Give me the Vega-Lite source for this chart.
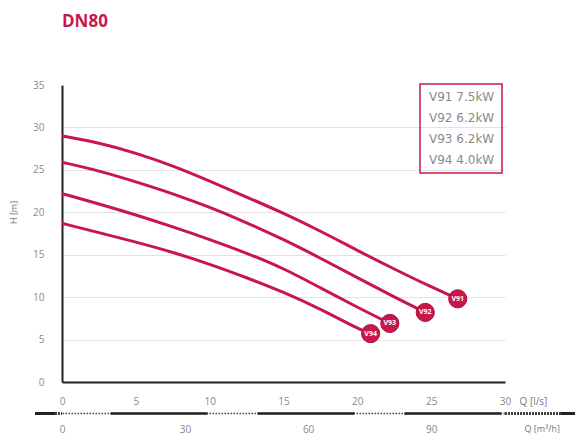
{
  "$schema": "https://vega.github.io/schema/vega-lite/v6.json",
  "width": 443,
  "height": 297,
  "autosize": {"type": "none"},
  "padding": {"left": 62, "top": 85, "right": 70, "bottom": 53},
  "background": "white",
  "title": {"text": "DN80", "anchor": "start", "frame": "group", "color": "#c8174b", "fontSize": 17, "fontWeight": "bold", "font": "Open Sans", "offset": 49},
  "config": {
    "view": {"stroke": null},
    "font": "Open Sans",
    "axis": {"labelColor": "#8a8a8a", "labelFontSize": 10, "labelFont": "Open Sans", "ticks": false, "tickSize": 0, "domainColor": "#222222", "domainWidth": 2, "titleColor": "#777777", "titleFontSize": 9, "titleFontWeight": "normal", "titleFont": "Open Sans", "grid": false},
    "legend": {"strokeWidth": 1.5}
  },
  "datasets": {
    "curves": [
      {"code": "V91", "pump": "V91 7.5kW", "Q": 0, "H": 29.0},
      {"code": "V91", "pump": "V91 7.5kW", "Q": 2.5, "H": 28.2},
      {"code": "V91", "pump": "V91 7.5kW", "Q": 5, "H": 27.0},
      {"code": "V91", "pump": "V91 7.5kW", "Q": 7.5, "H": 25.5},
      {"code": "V91", "pump": "V91 7.5kW", "Q": 10, "H": 23.7},
      {"code": "V91", "pump": "V91 7.5kW", "Q": 12.5, "H": 21.8},
      {"code": "V91", "pump": "V91 7.5kW", "Q": 15, "H": 19.9},
      {"code": "V91", "pump": "V91 7.5kW", "Q": 17.5, "H": 17.8},
      {"code": "V91", "pump": "V91 7.5kW", "Q": 20, "H": 15.5},
      {"code": "V91", "pump": "V91 7.5kW", "Q": 22.5, "H": 13.3},
      {"code": "V91", "pump": "V91 7.5kW", "Q": 25, "H": 11.2},
      {"code": "V91", "pump": "V91 7.5kW", "Q": 26.8, "H": 9.8},
      {"code": "V92", "pump": "V92 6.2kW", "Q": 0, "H": 25.9},
      {"code": "V92", "pump": "V92 6.2kW", "Q": 2.5, "H": 24.9},
      {"code": "V92", "pump": "V92 6.2kW", "Q": 5, "H": 23.6},
      {"code": "V92", "pump": "V92 6.2kW", "Q": 7.5, "H": 22.2},
      {"code": "V92", "pump": "V92 6.2kW", "Q": 10, "H": 20.6},
      {"code": "V92", "pump": "V92 6.2kW", "Q": 12.5, "H": 18.8},
      {"code": "V92", "pump": "V92 6.2kW", "Q": 15, "H": 16.8},
      {"code": "V92", "pump": "V92 6.2kW", "Q": 17.5, "H": 14.6},
      {"code": "V92", "pump": "V92 6.2kW", "Q": 20, "H": 12.3},
      {"code": "V92", "pump": "V92 6.2kW", "Q": 22.5, "H": 10.0},
      {"code": "V92", "pump": "V92 6.2kW", "Q": 24.6, "H": 8.2},
      {"code": "V93", "pump": "V93 6.2kW", "Q": 0, "H": 22.2},
      {"code": "V93", "pump": "V93 6.2kW", "Q": 2.5, "H": 21.0},
      {"code": "V93", "pump": "V93 6.2kW", "Q": 5, "H": 19.7},
      {"code": "V93", "pump": "V93 6.2kW", "Q": 7.5, "H": 18.3},
      {"code": "V93", "pump": "V93 6.2kW", "Q": 10, "H": 16.8},
      {"code": "V93", "pump": "V93 6.2kW", "Q": 12.5, "H": 15.2},
      {"code": "V93", "pump": "V93 6.2kW", "Q": 15, "H": 13.4},
      {"code": "V93", "pump": "V93 6.2kW", "Q": 17.5, "H": 11.1},
      {"code": "V93", "pump": "V93 6.2kW", "Q": 20, "H": 8.8},
      {"code": "V93", "pump": "V93 6.2kW", "Q": 22.2, "H": 6.9},
      {"code": "V94", "pump": "V94 4.0kW", "Q": 0, "H": 18.7},
      {"code": "V94", "pump": "V94 4.0kW", "Q": 2.5, "H": 17.6},
      {"code": "V94", "pump": "V94 4.0kW", "Q": 5, "H": 16.5},
      {"code": "V94", "pump": "V94 4.0kW", "Q": 7.5, "H": 15.3},
      {"code": "V94", "pump": "V94 4.0kW", "Q": 10, "H": 13.9},
      {"code": "V94", "pump": "V94 4.0kW", "Q": 12.5, "H": 12.3},
      {"code": "V94", "pump": "V94 4.0kW", "Q": 15, "H": 10.6},
      {"code": "V94", "pump": "V94 4.0kW", "Q": 17.5, "H": 8.6},
      {"code": "V94", "pump": "V94 4.0kW", "Q": 20, "H": 6.3},
      {"code": "V94", "pump": "V94 4.0kW", "Q": 20.9, "H": 5.7}
    ],
    "flow": [{"m3h": 0}, {"m3h": 30}, {"m3h": 60}, {"m3h": 90}]
  },
  "layer": [
    {
      "data": {"name": "curves"},
      "encoding": {
        "x": {"field": "Q", "type": "quantitative", "scale": {"domain": [0, 30], "nice": false},
          "axis": {"values": [0, 5, 10, 15, 20, 25, 30], "title": "Q [l/s]", "labelPadding": 14, "labelFlush": false, "titleX": 457, "titleY": 19, "titleAlign": "left", "titleBaseline": "middle", "titleAngle": 0, "titleFontSize": 10}},
        "y": {"field": "H", "type": "quantitative", "scale": {"domain": [0, 35], "nice": false},
          "axis": {"values": [0, 5, 10, 15, 20, 25, 30, 35], "title": "H [m]", "grid": true, "gridColor": "#e3e3e3", "gridWidth": 1,
            "gridOpacity": {"condition": {"test": "datum.value == 35", "value": 0}, "value": 1},
            "labelPadding": 18, "titleX": -49, "titleY": 127, "titleAlign": "center", "titleBaseline": "middle", "titleFontSize": 9}}
      },
      "layer": [
        {
          "mark": {"type": "line", "interpolate": "basis", "strokeWidth": 3},
          "encoding": {
            "detail": {"field": "code"},
            "color": {"field": "pump", "type": "nominal", "scale": {"range": ["#c8174b"]},
              "legend": {"title": null, "orient": "none", "legendX": 358, "legendY": -1, "strokeColor": "#c8174b", "padding": 7,
                "labelFontSize": 12, "labelFont": "DejaVu Sans", "labelColor": "#8a8a8a", "symbolSize": 0, "symbolStrokeWidth": 0, "symbolOpacity": 0, "labelOffset": -10, "rowPadding": 9}}
          }
        },
        {
          "mark": {"type": "rule", "strokeWidth": 2.5, "color": "#222222"},
          "encoding": {"x": {"datum": -1.82}, "x2": {"datum": -0.47}, "y": {"datum": -3.7}}
        },
        {
          "mark": {"type": "rule", "strokeWidth": 1.5, "color": "#444444", "strokeDash": [1.5, 1.5]},
          "encoding": {"x": {"datum": -0.47}, "x2": {"datum": 0}, "y": {"datum": -3.7}}
        },
        {
          "mark": {"type": "rule", "strokeWidth": 1.5, "color": "#444444", "strokeDash": [1.5, 1.5]},
          "encoding": {"x": {"datum": 30}, "x2": {"datum": 33.85}, "y": {"datum": -3.7}}
        },
        {
          "mark": {"type": "rule", "strokeWidth": 2.5, "color": "#222222"},
          "encoding": {"x": {"datum": 33.85}, "x2": {"datum": 35}, "y": {"datum": -3.7}}
        },
        {
          "transform": [{"joinaggregate": [{"op": "max", "field": "Q", "as": "Qmax"}], "groupby": ["code"]}, {"filter": "datum.Q == datum.Qmax"}],
          "mark": {"type": "circle", "size": 330, "color": "#c8174b", "opacity": 1, "stroke": "#a8123d", "strokeWidth": 1}
        },
        {
          "transform": [{"joinaggregate": [{"op": "max", "field": "Q", "as": "Qmax"}], "groupby": ["code"]}, {"filter": "datum.Q == datum.Qmax"}],
          "mark": {"type": "text", "color": "white", "fontSize": 7, "fontWeight": "bold", "font": "Open Sans"},
          "encoding": {"text": {"field": "code"}}
        }
      ]
    },
    {
      "data": {"name": "flow"},
      "mark": {"type": "point", "opacity": 0},
      "encoding": {
        "x": {"field": "m3h", "type": "quantitative", "scale": {"domain": [0, 108], "nice": false},
          "axis": {"orient": "bottom", "offset": 31, "values": [0, 30, 60, 90], "title": "Q [m³/h]", "domainDash": [1.5, 1.5], "domainWidth": 1.5, "domainColor": "#444444",
            "labelPadding": 11, "labelFlush": false, "titleX": 462, "titleY": 15, "titleAlign": "left", "titleBaseline": "middle", "titleAngle": 0, "titleFontSize": 9}}
      }
    },
    {
      "data": {"name": "flow"},
      "mark": {"type": "point", "opacity": 0},
      "encoding": {
        "x": {"field": "m3h", "type": "quantitative", "scale": {"domain": [0, 108], "nice": false},
          "axis": {"orient": "bottom", "offset": 31, "values": [0, 30, 60, 90], "labels": false, "title": null, "domainDash": [97, 50], "domainDashOffset": 99, "domainWidth": 2.5, "domainColor": "#222222"}}
      }
    }
  ],
  "resolve": {"scale": {"x": "independent"}}
}
